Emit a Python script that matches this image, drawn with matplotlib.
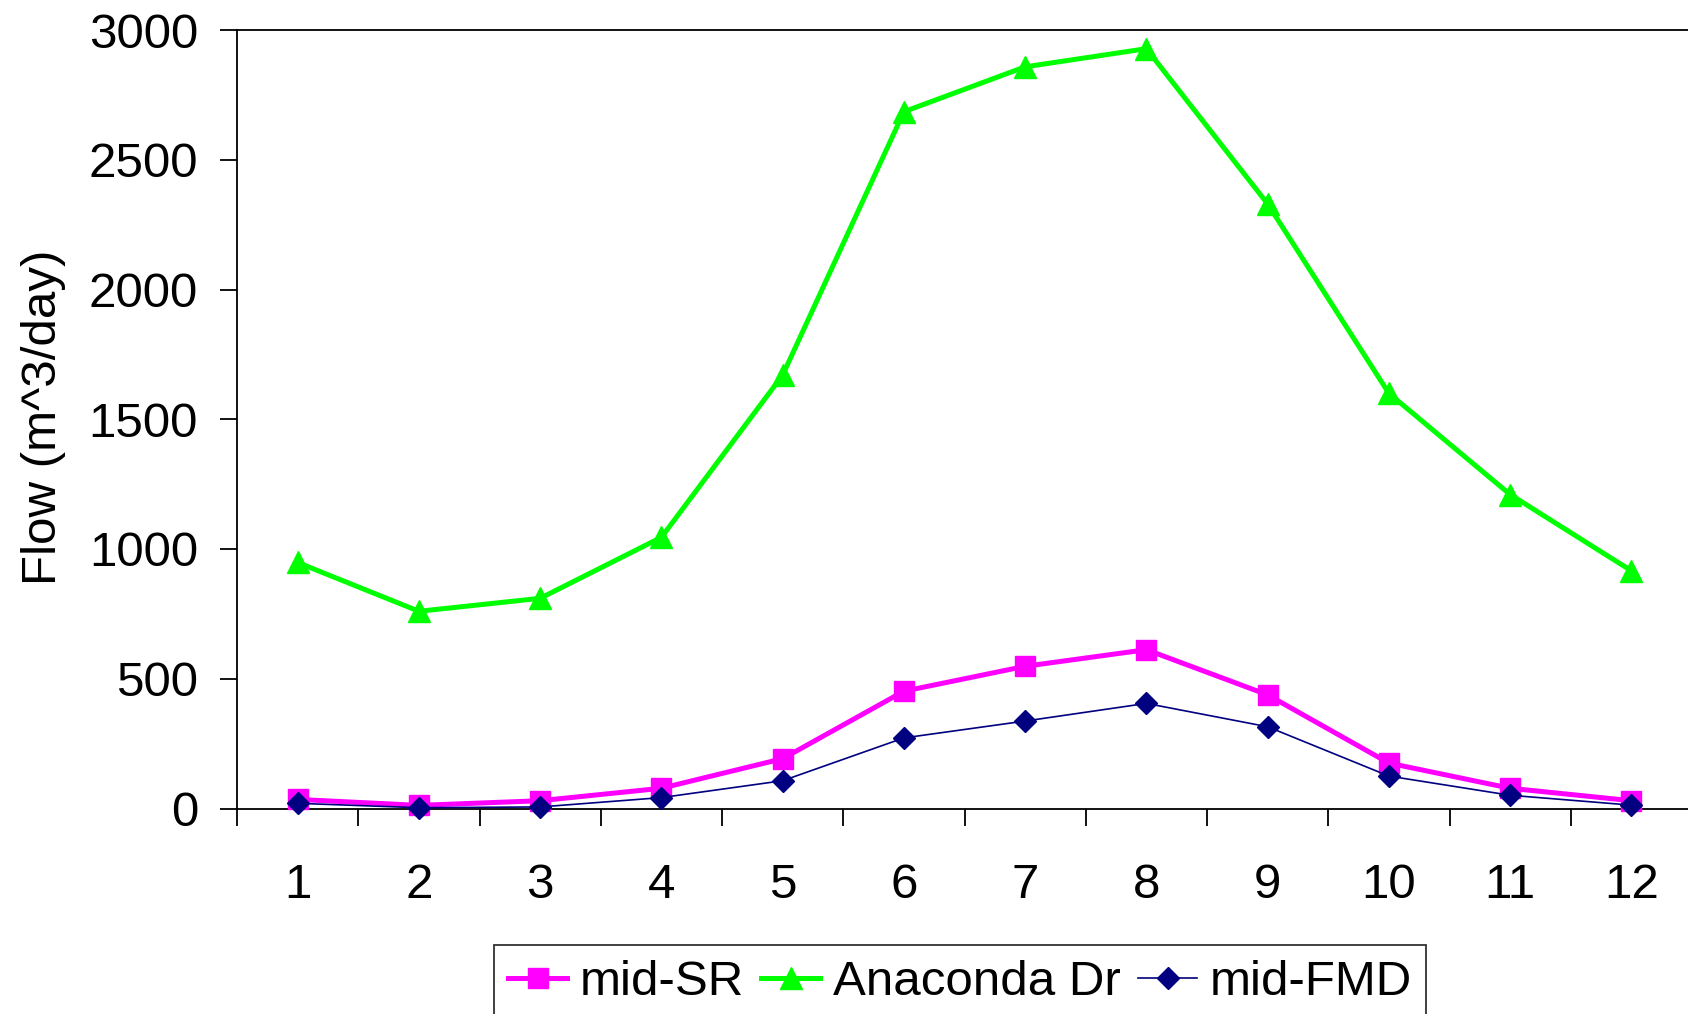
import matplotlib.pyplot as plt
from matplotlib.ticker import FixedLocator

plt.rcParams['font.family'] = ['Liberation Sans', 'DejaVu Sans']

months = [1, 2, 3, 4, 5, 6, 7, 8, 9, 10, 11, 12]
mid_sr = [35, 12, 30, 78, 192, 452, 548, 612, 438, 175, 78, 30]
anaconda_dr = [948, 760, 810, 1045, 1670, 2685, 2858, 2928, 2330, 1600, 1210, 916]
mid_fmd = [20, 3, 6, 42, 107, 272, 337, 405, 315, 125, 51, 13]
y_ticks = [0, 500, 1000, 1500, 2000, 2500, 3000]

FS = 35.5

fig = plt.figure(figsize=(16.88, 10.14), dpi=100)
ax = fig.add_axes([237 / 1688, 1 - 808.5 / 1014, (1692 - 237) / 1688, (808.5 - 30) / 1014])

ax.plot(months, mid_sr, color='#FF00FF', linewidth=3.6, marker='s', markersize=14,
        label='mid-SR', clip_on=False, zorder=3)
ax.plot(months, anaconda_dr, color='#00FF00', linewidth=3.6, marker='^', markersize=15.5,
        label='Anaconda Dr', clip_on=False, zorder=3)
ax.plot(months, mid_fmd, color='#000080', linewidth=1.2, marker='D', markersize=11.5,
        label='mid-FMD', clip_on=False, zorder=4)

ax.set_xlim(0.5, 12.5)
ax.set_ylim(0, 3000)
ax.set_yticks(y_ticks)

# category axis: tick marks between months, labels on the months
ax.xaxis.set_major_locator(FixedLocator([m - 0.5 for m in months] + [12.5]))
ax.xaxis.set_major_formatter(plt.NullFormatter())
ax.xaxis.set_minor_locator(FixedLocator(months))
ax.xaxis.set_minor_formatter(plt.FixedFormatter([str(m) for m in months]))
ax.tick_params(axis='x', which='major', direction='out', length=12, width=1.3)
ax.tick_params(axis='x', which='minor', length=0, pad=39, labelsize=FS)
ax.tick_params(axis='y', direction='out', length=12, width=1.3, pad=16, labelsize=FS)

ax.spines['right'].set_visible(False)
for s in ['left', 'bottom', 'top']:
    ax.spines[s].set_linewidth(1.3)

fig.text(43.5 / 1688, 1 - 417 / 1014, 'Flow (m^3/day)', rotation=90,
         ha='center', va='center', fontsize=FS)

leg = fig.legend(loc='upper center', bbox_to_anchor=(960 / 1688, 1 - 945 / 1014),
                 ncol=3, fontsize=FS, frameon=True, fancybox=False, numpoints=1,
                 handlelength=1.2, handletextpad=0.25, columnspacing=0.35,
                 borderpad=0.3, borderaxespad=0)
leg.get_frame().set_edgecolor('black')
leg.get_frame().set_linewidth(1.3)

plt.savefig('out.png', dpi=100)
